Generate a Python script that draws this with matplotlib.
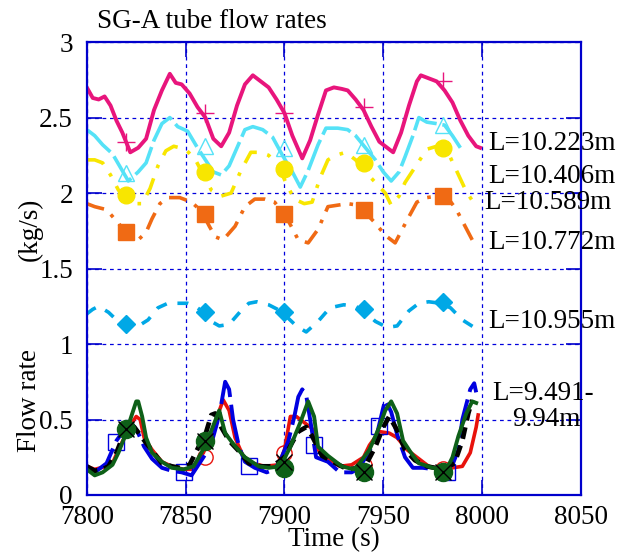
import matplotlib
matplotlib.use("Agg")
import matplotlib.pyplot as plt

plt.rcParams['font.family'] = ['Liberation Serif', 'DejaVu Serif']

# L=10.223m (pink, solid, + markers)
t_pink = [7800, 7803, 7806, 7809, 7812, 7815, 7818, 7822, 7826, 7830, 7834, 7838, 7842, 7845,
          7848, 7852, 7856, 7860, 7864, 7868, 7872, 7876, 7880, 7884, 7888, 7892, 7896, 7900,
          7904, 7909, 7913, 7917, 7921, 7925, 7929, 7932, 7936, 7940, 7944, 7948, 7952, 7955,
          7959, 7963, 7967, 7969, 7973, 7977, 7981, 7985, 7989, 7993, 7997, 7999]
y_pink = [2.70, 2.63, 2.62, 2.64, 2.58, 2.48, 2.40, 2.27, 2.30, 2.36, 2.55, 2.68, 2.79, 2.73,
          2.72, 2.66, 2.57, 2.50, 2.36, 2.31, 2.40, 2.58, 2.72, 2.78, 2.74, 2.70, 2.62, 2.53,
          2.38, 2.23, 2.35, 2.52, 2.68, 2.70, 2.69, 2.68, 2.62, 2.55, 2.44, 2.34, 2.30, 2.27,
          2.40, 2.58, 2.74, 2.78, 2.76, 2.74, 2.68, 2.60, 2.48, 2.38, 2.31, 2.30]
m_pink = [2.34, 2.53, 2.53, 2.57, 2.74]

# L=10.406m (cyan)
t_cyan = [7800, 7804, 7808, 7813, 7817, 7821, 7826, 7830, 7834, 7838, 7842, 7846, 7851, 7856,
          7860, 7864, 7868, 7872, 7876, 7880, 7884, 7889, 7894, 7899, 7904, 7908, 7912, 7917,
          7921, 7927, 7932, 7936, 7941, 7946, 7950, 7954, 7958, 7961, 7965, 7968, 7972, 7977,
          7981, 7985, 7989]
y_cyan = [2.42, 2.38, 2.32, 2.26, 2.17, 2.08, 2.14, 2.20, 2.35, 2.46, 2.50, 2.44, 2.41, 2.30,
          2.22, 2.14, 2.12, 2.18, 2.30, 2.42, 2.44, 2.42, 2.37, 2.25, 2.14, 2.04, 2.15, 2.32,
          2.43, 2.43, 2.42, 2.38, 2.30, 2.22, 2.14, 2.08, 2.14, 2.24, 2.38, 2.50, 2.47, 2.46,
          2.45, 2.38, 2.30]
m_cyan = [2.13, 2.31, 2.30, 2.32, 2.45]

# L=10.589m (yellow)
t_yel = [7800, 7804, 7808, 7812, 7816, 7820, 7824, 7828, 7832, 7836, 7840, 7844, 7850, 7855,
         7859, 7863, 7868, 7873, 7878, 7883, 7888, 7892, 7897, 7901, 7905, 7910, 7914, 7918,
         7922, 7926, 7931, 7936, 7941, 7946, 7951, 7954, 7958, 7961, 7966, 7972, 7977, 7982,
         7987, 7992, 7995]
y_yel = [2.22, 2.22, 2.20, 2.12, 2.02, 1.96, 1.93, 1.93, 2.03, 2.18, 2.28, 2.31, 2.29, 2.22,
         2.12, 2.02, 1.98, 2.00, 2.15, 2.27, 2.27, 2.25, 2.18, 2.06, 1.96, 1.93, 1.94, 2.10,
         2.22, 2.25, 2.27, 2.22, 2.14, 2.07, 2.00, 1.92, 1.98, 2.07, 2.17, 2.29, 2.31, 2.29,
         2.15, 2.01, 1.95]
m_yel = [1.99, 2.14, 2.16, 2.20, 2.30]

# L=10.772m (orange)
t_orn = [7800, 7804, 7810, 7816, 7821, 7826, 7830, 7833, 7837, 7841, 7847, 7853, 7858, 7862,
         7865, 7869, 7875, 7880, 7885, 7890, 7895, 7901, 7907, 7912, 7917, 7922, 7927, 7932,
         7937, 7941, 7946, 7951, 7956, 7962, 7967, 7972, 7977, 7982, 7987, 7991, 7995]
y_orn = [1.93, 1.91, 1.89, 1.80, 1.72, 1.69, 1.74, 1.83, 1.93, 1.97, 1.97, 1.94, 1.88, 1.78,
         1.71, 1.69, 1.78, 1.91, 1.96, 1.96, 1.94, 1.84, 1.69, 1.67, 1.76, 1.91, 1.92, 1.93,
         1.92, 1.87, 1.80, 1.72, 1.67, 1.82, 1.94, 1.97, 1.98, 1.98, 1.89, 1.79, 1.69]
m_orn = [1.74, 1.86, 1.86, 1.89, 1.98]

# L=10.955m (sky blue, diamonds)
t_dia = [7800, 7803, 7806, 7811, 7815, 7820, 7825, 7831, 7836, 7841, 7845, 7851, 7855, 7859,
         7863, 7867, 7872, 7878, 7882, 7886, 7892, 7898, 7902, 7906, 7911, 7917, 7923, 7930,
         7936, 7941, 7946, 7952, 7957, 7963, 7968, 7973, 7979, 7984, 7990, 7996]
y_dia = [1.20, 1.23, 1.25, 1.21, 1.16, 1.12, 1.11, 1.16, 1.24, 1.27, 1.27, 1.27, 1.25, 1.21,
         1.15, 1.12, 1.13, 1.22, 1.27, 1.28, 1.26, 1.22, 1.17, 1.12, 1.08, 1.15, 1.24, 1.26,
         1.25, 1.21, 1.15, 1.11, 1.12, 1.22, 1.27, 1.28, 1.27, 1.24, 1.16, 1.11]
m_dia = [1.13, 1.21, 1.21, 1.23, 1.28]

t_mark = [7820, 7860, 7900, 7940, 7980]

# L=9.491-9.94m group
t_red = [7800, 7804, 7807, 7810, 7813, 7816, 7819, 7822, 7825, 7827, 7829, 7833, 7838, 7843,
         7849, 7853, 7856, 7859, 7863, 7866, 7869, 7872, 7875, 7879, 7884, 7890, 7897, 7900,
         7903, 7906, 7910, 7914, 7917, 7922, 7928, 7934, 7940, 7943, 7948, 7953, 7957, 7962,
         7967, 7973, 7980, 7985, 7990, 7994, 7997, 7998]
y_red = [0.19, 0.17, 0.18, 0.19, 0.21, 0.30, 0.38, 0.46, 0.52, 0.50, 0.38, 0.30, 0.22, 0.19,
         0.17, 0.17, 0.23, 0.28, 0.41, 0.52, 0.63, 0.56, 0.38, 0.26, 0.21, 0.19, 0.20, 0.30,
         0.52, 0.52, 0.48, 0.44, 0.30, 0.24, 0.19, 0.20, 0.25, 0.33, 0.42, 0.41, 0.38, 0.30,
         0.25, 0.19, 0.17, 0.18, 0.19, 0.28, 0.45, 0.53]
t_red_m = [7860, 7900, 7940, 7980]
y_red_m = [0.25, 0.28, 0.20, 0.17]

t_blu = [7800, 7805, 7810, 7815, 7820, 7823, 7826, 7829, 7833, 7838, 7843, 7848, 7853, 7856,
         7860, 7863, 7866, 7868, 7870, 7872, 7874, 7877, 7880, 7885, 7891, 7895, 7898, 7902,
         7905, 7907, 7909, 7911, 7913, 7916, 7922, 7928, 7934, 7938, 7941, 7946, 7950, 7951,
         7954, 7957, 7961, 7965, 7970, 7976, 7981, 7985, 7988, 7990, 7994, 7996, 7997]
y_blu = [0.18, 0.16, 0.21, 0.36, 0.45, 0.47, 0.41, 0.32, 0.24, 0.18, 0.16, 0.15, 0.13, 0.19,
         0.27, 0.34, 0.48, 0.60, 0.75, 0.70, 0.50, 0.32, 0.22, 0.18, 0.15, 0.17, 0.23, 0.36,
         0.52, 0.65, 0.70, 0.66, 0.50, 0.25, 0.22, 0.15, 0.15, 0.18, 0.25, 0.36, 0.58, 0.63,
         0.55, 0.40, 0.25, 0.18, 0.18, 0.17, 0.17, 0.20, 0.30, 0.50, 0.70, 0.74, 0.68]
t_blu_m = [7815, 7849, 7882, 7915, 7948, 7982]
y_blu_m = [0.35, 0.15, 0.19, 0.33, 0.46, 0.15]

t_blk = [7800, 7804, 7808, 7811, 7815, 7818, 7821, 7824, 7828, 7832, 7838, 7843, 7847, 7852,
         7857, 7860, 7863, 7865, 7868, 7872, 7877, 7882, 7888, 7894, 7900, 7904, 7907, 7911,
         7914, 7919, 7926, 7932, 7938, 7942, 7946, 7950, 7953, 7957, 7961, 7966, 7972, 7980,
         7986, 7990, 7993, 7995]
y_blk = [0.19, 0.16, 0.17, 0.19, 0.28, 0.38, 0.48, 0.45, 0.38, 0.31, 0.21, 0.19, 0.18, 0.20,
         0.33, 0.40, 0.53, 0.54, 0.45, 0.36, 0.29, 0.21, 0.19, 0.19, 0.25, 0.35, 0.42, 0.45,
         0.39, 0.26, 0.21, 0.17, 0.18, 0.22, 0.32, 0.45, 0.52, 0.43, 0.30, 0.23, 0.19, 0.17,
         0.21, 0.36, 0.54, 0.63]
y_blk_m = [0.44, 0.36, 0.22, 0.15, 0.15]

t_grn = [7800, 7804, 7808, 7813, 7816, 7819, 7822, 7825, 7826, 7828, 7830, 7833, 7838, 7843,
         7849, 7854, 7858, 7861, 7864, 7867, 7870, 7874, 7880, 7887, 7892, 7898, 7903, 7908,
         7912, 7915, 7917, 7922, 7929, 7935, 7938, 7943, 7948, 7951, 7954, 7957, 7960, 7964,
         7968, 7975, 7982, 7985, 7988, 7992, 7995, 7997]
y_grn = [0.17, 0.13, 0.15, 0.20, 0.28, 0.38, 0.50, 0.62, 0.62, 0.52, 0.38, 0.28, 0.22, 0.18,
         0.17, 0.19, 0.28, 0.36, 0.46, 0.56, 0.41, 0.34, 0.25, 0.19, 0.18, 0.19, 0.32, 0.48,
         0.62, 0.52, 0.32, 0.26, 0.19, 0.17, 0.21, 0.30, 0.45, 0.56, 0.62, 0.54, 0.36, 0.28,
         0.21, 0.18, 0.17, 0.25, 0.39, 0.54, 0.62, 0.61]
y_grn_m = [0.44, 0.36, 0.18, 0.15, 0.15]

labels = ['L=10.223m', 'L=10.406m', 'L=10.589m', 'L=10.772m', 'L=10.955m', 'L=9.491-', '9.94m']
label_x = [8003, 8003, 8001, 8003, 8003, 8005, 8015]
label_y = [2.33, 2.11, 1.94, 1.67, 1.15, 0.67, 0.50]

fig = plt.figure(figsize=(6.2, 5.54), dpi=100)
ax = fig.add_axes([0.140, 0.1065, 0.797, 0.8175])

c_pink = '#E8157C'
c_cyan = '#55E2F7'
c_yel = '#F8E600'
c_orn = '#F06A14'
c_dia = '#00A8E6'

ax.plot(t_pink, y_pink, color=c_pink, lw=2.8)
ax.plot(t_mark, m_pink, ls='none', marker='+', ms=13, mew=1, color=c_pink)

ax.plot(t_cyan, y_cyan, color=c_cyan, lw=2.6, ls=(0, (9, 1.6)))
ax.plot(t_mark, m_cyan, ls='none', marker='^', ms=11, mfc='none', mec=c_cyan, mew=1)

ax.plot(t_yel, y_yel, color=c_yel, lw=2.6, ls=(0, (5, 3, 1, 3)))
ax.plot(t_mark, m_yel, ls='none', marker='o', ms=12, color=c_yel)

ax.plot(t_orn, y_orn, color=c_orn, lw=2.6, ls=(0, (5, 2.5, 1, 2.5)))
ax.plot(t_mark, m_orn, ls='none', marker='s', ms=12, color=c_orn)

ax.plot(t_dia, y_dia, color=c_dia, lw=2.6, ls=(0, (3, 3)))
ax.plot(t_mark, m_dia, ls='none', marker='D', ms=9, color=c_dia)

ax.plot(t_red, y_red, color='#E8120C', lw=2.6)
ax.plot(t_red_m, y_red_m, ls='none', marker='o', ms=11, mfc='none', mec='#E8120C', mew=1)
ax.plot(t_blu, y_blu, color='#0000E0', lw=2.8, ls=(0, (10, 2)))
ax.plot(t_blu_m, y_blu_m, ls='none', marker='s', ms=12, mfc='none', mec='#0000E0', mew=1)
ax.plot(t_blk, y_blk, color='black', lw=3.4, ls=(0, (2.5, 1.5)))
ax.plot(t_grn, y_grn, color='#0E6018', lw=2.8)
ax.plot(t_mark, y_grn_m, ls='none', marker='o', ms=13, color='#0E6018')
ax.plot(t_mark, y_blk_m, ls='none', marker='x', ms=12, mew=1, color='black')

for s, x, y in zip(labels, label_x, label_y):
    ax.text(x, y, s, fontsize=19.5, va='center', ha='left', clip_on=False)

ax.set_xlim(7800, 8050)
ax.set_ylim(0, 3)
ax.set_xticks([7800, 7850, 7900, 7950, 8000, 8050])
ax.set_yticks([0, 0.5, 1, 1.5, 2, 2.5, 3])
ax.set_yticklabels(['0', '0.5', '1', '1.5', '2', '2.5', '3'])
ax.grid(True, color='#0000DD', ls=(0, (3, 3)), lw=0.9)
for sp in ax.spines.values():
    sp.set_color('#0000CC')
    sp.set_linewidth(1.6)
ax.tick_params(direction='in', top=True, right=True, length=11, width=1.2,
               color='#0000CC', labelsize=19.5)
ax.tick_params(axis='y', pad=10)
ax.tick_params(axis='x', pad=7)
ax.set_xlabel('Time (s)', fontsize=19.5, labelpad=-2)

# y label drawn in two pieces, with the wide gap seen in the original
fig.text(30 / 620, 1 - 401 / 554, 'Flow rate', fontsize=19.5, rotation=90,
         ha='center', va='center')
fig.text(30 / 620, 1 - 229 / 554, '(kg/s)', fontsize=19.5, rotation=90,
         ha='center', va='center')
fig.text(97 / 620, 1 - 22 / 554, 'SG-A tube flow rates', fontsize=19.5, va='center', ha='left')

fig.savefig('out.png', dpi=100)
